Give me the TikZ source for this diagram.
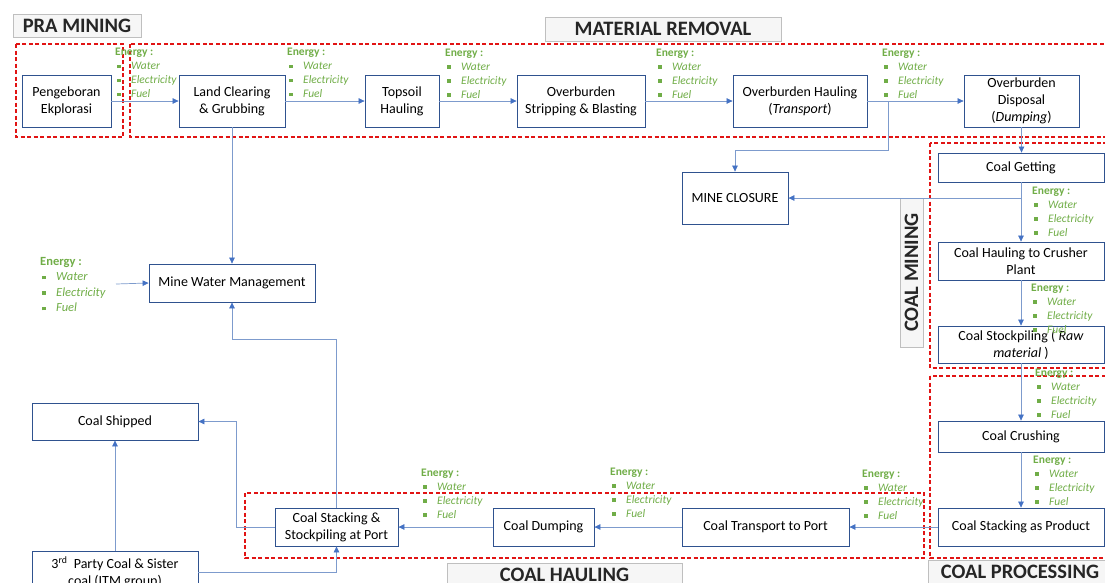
\documentclass[tikz,border=0pt]{standalone}
\usepackage{fontspec}
\setmainfont{Carlito}
\usetikzlibrary{arrows.meta}

\definecolor{boxblue}{RGB}{47,82,143}
\definecolor{lineblue}{RGB}{125,155,205}
\definecolor{arrowblue}{RGB}{68,114,196}
\definecolor{energygreen}{RGB}{112,173,71}
\definecolor{zonered}{RGB}{225,20,20}
\definecolor{tagborder}{RGB}{191,191,191}
\definecolor{tagfill}{RGB}{246,246,246}

% energy list
\newcommand{\enitem}[1]{\makebox[16pt][l]{\hspace{2pt}\raisebox{1.5pt}{\rule{3.5pt}{3.5pt}}}\textit{#1}}
\newcommand{\enlist}{\textbf{Energy :}\\\enitem{Water}\\\enitem{Electricity}\\\enitem{Fuel}}

\tikzset{
  proc/.style={draw=boxblue, line width=0.8pt, fill=white, align=center, inner sep=1pt,
    font=\fontsize{14}{16.7}\selectfont},
  sz/.style 2 args={minimum width=#1pt, minimum height=#2pt},
  conn/.style={draw=lineblue, line width=0.7pt, -{Triangle[length=6pt,width=5.5pt,color=arrowblue]}},
  zone/.style={draw=zonered, line width=1.3pt, dash pattern=on 4pt off 2.5pt},
  tag/.style={draw=tagborder, fill=tagfill, line width=0.8pt, inner sep=0pt,
    font=\fontsize{20.5}{23}\selectfont\bfseries, text=black!85},
  energy/.style={anchor=north west, inner sep=0pt, align=left, text=energygreen,
    font=\fontsize{11.5}{14}\selectfont},
}

\begin{document}
\begin{tikzpicture}[x=1pt, y=-1pt]

\useasboundingbox (0,0) rectangle (1105,582);
\clip (0,0) rectangle (1105,582);

% Stage frames
\draw[zone] (16,44) rectangle (123,137);
\draw[zone] (130,44) rectangle (1112,137);
\draw[zone] (930,143) rectangle (1112,368);
\draw[zone] (930,376) rectangle (1112,558);
\draw[zone] (245,493) rectangle (924,558);

% Stage titles
\node[tag, sz={128}{23}] (lblpra) at (77,25.5) {PRA MINING};
\node[tag, sz={236}{24}] (lblmat) at (663,29) {MATERIAL REMOVAL};
\node[tag, sz={149}{23}, rotate=90] (lblcm) at (911.5,272.5) {COAL MINING};
\node[tag, sz={235}{24}] (lblhaul) at (564.5,575) {COAL HAULING};
\node[tag, sz={184}{24}] (lblproc) at (1020,572) {COAL PROCESSING};

% Top row
\node[proc, sz={89}{52}] (pengeboran) at (66.5,101) {Pengeboran\\Ekplorasi};
\node[proc, sz={106}{52}] (landclear) at (232,101) {Land Clearing\\\& Grubbing};
\node[proc, sz={74}{52}] (topsoil) at (402,101) {Topsoil\\Hauling};
\node[proc, sz={128}{52}] (obstrip) at (581,101) {Overburden\\Stripping \& Blasting};
\node[proc, sz={134}{52}] (obhaul) at (800,101) {Overburden Hauling\\(\textit{Transport})};
\node[proc, sz={115}{52}] (obdisp) at (1021.5,101) {Overburden\\Disposal\\(\textit{Dumping})};

% Coal mining and processing column
\node[proc, sz={106}{52}] (closure) at (735,198) {MINE CLOSURE};
\node[proc, sz={166}{29}] (getting) at (1021,167.5) {Coal Getting};
\node[proc, sz={166}{38}] (crushhaul) at (1021,261) {Coal Hauling to Crusher\\Plant};
\node[proc, sz={166}{37}] (stockraw) at (1021,344.5) {Coal Stockpiling ( \textit{Raw}\\\textit{material} )};
\node[proc, sz={166}{31}] (crushing) at (1021,436.5) {Coal Crushing};
\node[proc, sz={166}{38}] (stackprod) at (1021,527) {Coal Stacking as Product};

% Hauling row
\node[proc, sz={167}{38}] (transport) at (765.5,527) {Coal Transport to Port};
\node[proc, sz={101}{38}] (dumping) at (543.5,527) {Coal Dumping};
\node[proc, sz={123}{38}] (stackport) at (336.5,527) {Coal Stacking \&\\Stockpiling at Port};

% Left side
\node[proc, sz={166}{38}] (mwm) at (232,283) {Mine Water Management};
\node[proc, sz={166}{37}] (shipped) at (115,421.5) {Coal Shipped};
\node[proc, sz={166}{42}] (thirdparty) at (115,572) {3\textsuperscript{rd}~ Party Coal \& Sister\\coal (ITM group)};

% Helper points
\coordinate (obsplit) at (888,101);
\coordinate (mwmret) at (232,339);
\coordinate (enleft) at (116,284);

% Main flow
\draw[conn] (pengeboran) -- (landclear);
\draw[conn] (landclear) -- (topsoil);
\draw[conn] (topsoil) -- (obstrip);
\draw[conn] (obstrip) -- (obhaul);
\draw[conn] (obhaul) -- (obdisp);
\draw[conn] (obsplit) -- ++(0,49) -| (closure.north);
\draw[conn] (obdisp.south) -- (obdisp.south |- getting.north);
\draw[conn] (getting) -- (crushhaul);
\draw[conn] (getting.south |- closure.east) -- (closure.east);
\draw[conn] (crushhaul) -- (stockraw);
\draw[conn] (stockraw) -- (crushing);
\draw[conn] (crushing) -- (stackprod);
\draw[conn] (stackprod) -- (transport);
\draw[conn] (transport) -- (dumping);
\draw[conn] (dumping) -- (stackport);

% Water and shipping
\draw[conn] (landclear) -- (mwm);
\draw[conn] (stackport.north) |- (mwmret) -- (mwm.south);
\draw[conn] (enleft) -- (mwm.west);
\draw[conn] (stackport.west) -- ++(-38,0) |- (shipped.east);
\draw[conn] (thirdparty) -- (shipped);
\draw[conn] (thirdparty.east) -| (stackport.south);

% Energy inputs
\node[energy] (en1) at (115,48) {\enlist};
\node[energy] (en2) at (287,48) {\enlist};
\node[energy] (en3) at (445,48.5) {\enlist};
\node[energy] (en4) at (656,48.5) {\enlist};
\node[energy] (en5) at (882,48.5) {\enlist};
\node[energy] (en6) at (1032,186.5) {\enlist};
\node[energy] (en7) at (1031,283.5) {\enlist};
\node[energy] (en8) at (1035,368.5) {\enlist};
\node[energy] (en9) at (1033,455.5) {\enlist};
\node[energy] (en10) at (421,468.5) {\enlist};
\node[energy] (en11) at (610,467.5) {\enlist};
\node[energy] (en12) at (862,469.5) {\enlist};
\node[energy, font=\fontsize{12.5}{15.5}\selectfont] (en13) at (40,257) {\enlist};

\end{tikzpicture}
\end{document}
